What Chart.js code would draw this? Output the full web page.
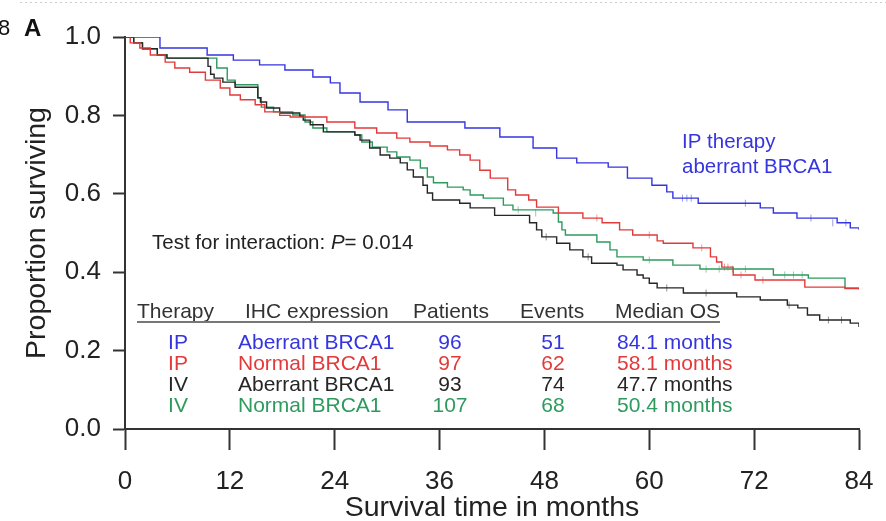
<!DOCTYPE html>
<html>
<head>
<meta charset="utf-8">
<script src="https://cdn.jsdelivr.net/npm/chart.js@4/dist/chart.umd.min.js"></script>
<style>
  html, body { margin: 0; padding: 0; background: #fff; }
  canvas { display: block; }
</style>
</head>
<body>
<canvas id="km" width="886" height="521"></canvas>
<script>
// Kaplan-Meier steps: time (months) and proportion surviving
const ipAberrantT = [0, 4.0, 9.4, 12.4, 15.4, 18.3, 21.5, 23.5, 24.6, 26.9, 30.1, 32.3, 38.9, 42.9, 46.7, 49.4, 51.7, 55.3, 57.5, 60.3, 62.0, 62.7, 65.6, 72.7, 74.2, 76.9, 81.5, 83.0, 84];
const ipAberrantS = [1.0, 0.972, 0.954, 0.941, 0.929, 0.916, 0.898, 0.883, 0.857, 0.834, 0.814, 0.783, 0.768, 0.745, 0.717, 0.691, 0.679, 0.668, 0.640, 0.622, 0.605, 0.589, 0.576, 0.564, 0.551, 0.538, 0.526, 0.513, 0.508];

const ipNormalT = [0, 0.6, 1.7, 2.9, 4.6, 5.7, 7.4, 9.2, 10.9, 12.0, 13.2, 14.9, 16.0, 17.7, 18.9, 23.1, 26.3, 28.8, 31.1, 32.6, 34.9, 36.9, 38.3, 39.5, 40.6, 41.8, 43.8, 44.7, 46.2, 47.1, 49.6, 52.4, 54.6, 56.6, 58.1, 60.9, 61.6, 65.0, 67.0, 67.7, 68.3, 69.6, 72.1, 77.8, 82.4, 84];
const ipNormalS = [1.0, 0.985, 0.972, 0.954, 0.936, 0.921, 0.910, 0.890, 0.870, 0.852, 0.840, 0.827, 0.809, 0.800, 0.796, 0.783, 0.768, 0.755, 0.742, 0.732, 0.722, 0.712, 0.699, 0.686, 0.660, 0.640, 0.610, 0.597, 0.584, 0.566, 0.551, 0.538, 0.526, 0.508, 0.495, 0.480, 0.474, 0.462, 0.439, 0.426, 0.413, 0.393, 0.380, 0.362, 0.358, 0.355];

const ivAberrantT = [0, 1.0, 2.0, 3.7, 4.8, 9.5, 9.8, 10.2, 11.2, 12.6, 15.2, 15.5, 16.2, 17.7, 20.0, 20.4, 21.2, 22.7, 26.3, 26.9, 28.0, 29.2, 30.3, 31.5, 32.3, 33.0, 34.1, 34.6, 35.2, 38.3, 39.5, 42.3, 46.3, 47.1, 47.7, 49.4, 50.9, 52.4, 53.4, 56.3, 57.0, 58.6, 59.3, 60.0, 60.9, 63.9, 70.0, 72.7, 75.8, 77.0, 78.1, 79.5, 83.0, 84];
const ivAberrantS = [1.0, 0.985, 0.970, 0.954, 0.946, 0.925, 0.905, 0.895, 0.885, 0.872, 0.845, 0.834, 0.819, 0.806, 0.798, 0.788, 0.776, 0.758, 0.750, 0.737, 0.717, 0.699, 0.691, 0.679, 0.661, 0.643, 0.622, 0.602, 0.584, 0.576, 0.564, 0.545, 0.526, 0.508, 0.490, 0.474, 0.457, 0.439, 0.423, 0.418, 0.406, 0.393, 0.385, 0.372, 0.360, 0.347, 0.337, 0.329, 0.316, 0.309, 0.291, 0.278, 0.270, 0.260];

const ivNormalT = [0, 1.0, 2.0, 3.7, 4.8, 10.5, 11.7, 12.6, 15.2, 15.6, 17.0, 19.2, 20.6, 21.5, 23.1, 26.3, 27.1, 28.3, 30.0, 31.1, 32.6, 33.8, 34.6, 35.3, 36.9, 38.7, 39.5, 41.0, 43.3, 44.4, 49.0, 49.6, 50.0, 50.4, 54.0, 55.5, 56.3, 59.3, 62.7, 65.8, 74.2, 78.2, 82.4, 84];
const ivNormalS = [1.0, 0.985, 0.970, 0.954, 0.946, 0.921, 0.890, 0.878, 0.845, 0.821, 0.809, 0.801, 0.783, 0.768, 0.758, 0.750, 0.732, 0.719, 0.707, 0.694, 0.686, 0.666, 0.643, 0.628, 0.617, 0.610, 0.597, 0.589, 0.571, 0.559, 0.551, 0.528, 0.508, 0.495, 0.477, 0.457, 0.439, 0.431, 0.418, 0.408, 0.393, 0.385, 0.360, 0.360];

// censor marks
const ipAberrantCensT = [63.8, 64.3, 64.8, 71.0, 78.5, 81.0, 82.5];
const ipAberrantCensS = [0.589, 0.589, 0.589, 0.576, 0.538, 0.526, 0.526];
const ipNormalCensT = [54.0, 60.0, 66.0, 68.6, 69.0, 70.5, 73.0];
const ipNormalCensS = [0.538, 0.495, 0.462, 0.413, 0.413, 0.393, 0.380];
const ivAberrantCensT = [48.2, 53.0, 62.0, 66.5, 76.0, 80.5, 82.0];
const ivAberrantCensS = [0.490, 0.439, 0.360, 0.347, 0.316, 0.278, 0.278];
const ivNormalCensT = [45.0, 47.0, 60.0, 66.5, 68.0, 69.5, 71.0, 75.5, 76.5, 77.5];
const ivNormalCensS = [0.559, 0.551, 0.431, 0.408, 0.408, 0.408, 0.408, 0.393, 0.393, 0.393];

// summary table
const therapies = ["IP", "IP", "IV", "IV"];
const ihcExpr = ["Aberrant BRCA1", "Normal BRCA1", "Aberrant BRCA1", "Normal BRCA1"];
const patients = ["96", "97", "93", "107"];
const events = ["51", "62", "74", "68"];
const medianOS = ["84.1 months", "58.1 months", "47.7 months", "50.4 months"];
const headers = ["Therapy", "IHC expression", "Patients", "Events", "Median OS"];

const xTicks = [0, 12, 24, 36, 48, 60, 72, 84];
const yTicks = [0.0, 0.2, 0.4, 0.6, 0.8, 1.0];

const COLORS = ["#3535e0", "#e23a3a", "#262626", "#2e9a5e"];
const FONT = "'Liberation Sans', Arial, Helvetica, sans-serif";

function pts(t, s) { return t.map((v, i) => ({ x: v, y: s[i] })); }

function curve(t, s, color) {
    return { type: "line", data: pts(t, s), borderColor: color, borderWidth: 1.4,
             stepped: true, pointRadius: 0, fill: false };
}
function marks(t, s, color) {
    return { type: "scatter", data: pts(t, s), borderColor: color + "80", backgroundColor: color,
             pointStyle: "line", rotation: 90, pointRadius: 3.5, borderWidth: 1, showLine: false };
}

const annotations = {
    id: "annotations",
    afterDraw(chart) {
        const ctx = chart.ctx;
        ctx.save();
        ctx.textBaseline = "middle";

        // panel label
        ctx.fillStyle = "#111";
        ctx.font = "bold 24px " + FONT;
        ctx.textAlign = "left";
        ctx.fillText("A", 24, 29);
        ctx.font = "22px " + FONT;
        ctx.fillText("8", -2, 29);
        ctx.strokeStyle = "#ccc";
        ctx.lineWidth = 1;
        ctx.setLineDash([2, 3]);
        ctx.beginPath(); ctx.moveTo(20, 2.5); ctx.lineTo(886, 2.5); ctx.stroke();
        ctx.setLineDash([]);

        // curve label
        ctx.fillStyle = COLORS[0];
        ctx.font = "20.5px " + FONT;
        ctx.fillText("IP therapy", 682, 142);
        ctx.fillText("aberrant BRCA1", 682, 167);

        // interaction test
        ctx.fillStyle = "#222";
        let x = 152;
        const y = 243;
        const parts = [["Test for interaction: ", "20.5px "], ["P", "italic 20.5px "], ["= 0.014", "20.5px "]];
        parts.forEach(([txt, f]) => {
            ctx.font = f + FONT;
            ctx.fillText(txt, x, y);
            x += ctx.measureText(txt).width;
        });

        // table
        ctx.font = "21px " + FONT;
        ctx.fillStyle = "#333";
        const hx = [137, 245, 413, 520, 615];
        headers.forEach((h, i) => ctx.fillText(h, hx[i], 312));
        ctx.strokeStyle = "#777";
        ctx.lineWidth = 2;
        ctx.beginPath(); ctx.moveTo(137, 322); ctx.lineTo(720, 322); ctx.stroke();

        const rowY = [343, 364, 385, 406];
        therapies.forEach((t, i) => {
            ctx.fillStyle = COLORS[i];
            ctx.textAlign = "center";
            ctx.fillText(t, 178, rowY[i]);
            ctx.fillText(patients[i], 450, rowY[i]);
            ctx.fillText(events[i], 553, rowY[i]);
            ctx.textAlign = "left";
            ctx.fillText(ihcExpr[i], 238, rowY[i]);
            ctx.fillText(medianOS[i], 617, rowY[i]);
        });
        ctx.restore();
    }
};

new Chart(document.getElementById("km"), {
    type: "line",
    data: {
        datasets: [
            curve(ipAberrantT, ipAberrantS, COLORS[0]),
            curve(ipNormalT, ipNormalS, COLORS[1]),
            curve(ivAberrantT, ivAberrantS, COLORS[2]),
            curve(ivNormalT, ivNormalS, COLORS[3]),
            marks(ipAberrantCensT, ipAberrantCensS, COLORS[0]),
            marks(ipNormalCensT, ipNormalCensS, COLORS[1]),
            marks(ivAberrantCensT, ivAberrantCensS, COLORS[2]),
            marks(ivNormalCensT, ivNormalCensS, COLORS[3])
        ]
    },
    options: {
        responsive: false,
        animation: false,
        layout: { padding: { top: 37, right: 27, left: 0, bottom: 0 } },
        plugins: { legend: { display: false }, tooltip: { enabled: false } },
        scales: {
            x: {
                type: "linear", min: 0, max: 84,
                afterBuildTicks: s => { s.ticks = xTicks.map(v => ({ value: v })); },
                afterFit: s => { s.height = 92; s.paddingLeft = 0; s.paddingRight = 0; },
                ticks: { color: "#222", font: { family: FONT, size: 26 }, padding: 16, maxRotation: 0 },
                grid: { drawOnChartArea: false, tickLength: 21, tickColor: "#333", tickWidth: 2 },
                border: { color: "#333", width: 2 },
                title: { display: true, text: "Survival time in months", color: "#222",
                         font: { family: FONT, size: 28.5 }, padding: { top: 0, bottom: -4 } }
            },
            y: {
                min: 0, max: 1,
                afterBuildTicks: s => { s.ticks = yTicks.map(v => ({ value: v })); },
                afterFit: s => { s.width = 125; },
                ticks: { color: "#222", font: { family: FONT, size: 26 }, padding: 12,
                         callback: v => v.toFixed(1) },
                grid: { drawOnChartArea: false, tickLength: 12, tickColor: "#333", tickWidth: 2 },
                border: { color: "#333", width: 2 },
                title: { display: true, text: "Proportion surviving", color: "#222",
                         font: { family: FONT, size: 28.5 }, padding: { top: 20, bottom: 0 } }
            }
        }
    },
    plugins: [annotations]
});
</script>
</body>
</html>
